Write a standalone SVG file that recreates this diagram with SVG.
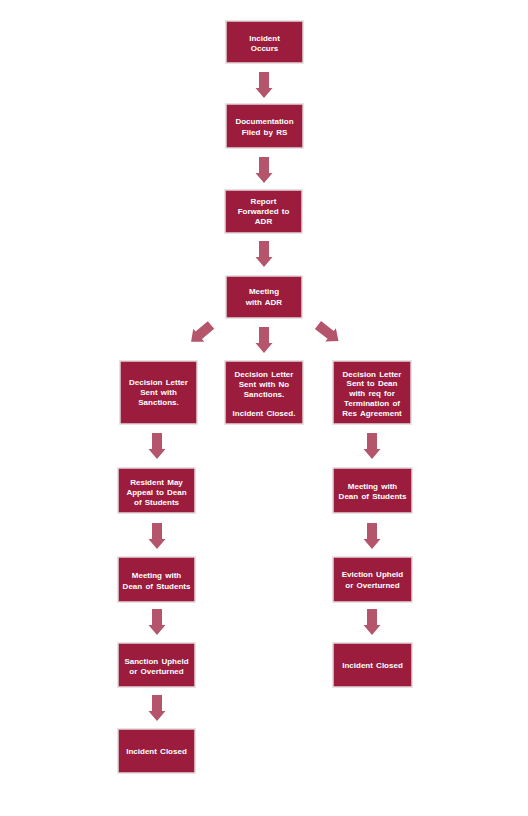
<svg xmlns="http://www.w3.org/2000/svg" width="528" height="816" viewBox="0 0 528 816">
<defs>
<style>
.box{fill:#9b1c3c;stroke:#e2d6d9;stroke-width:1.5}
.t{font-family:"Liberation Sans",Arial,sans-serif;font-size:8px;font-weight:bold;fill:#ffffff;text-anchor:middle;word-spacing:1px}
.arr{fill:#b4556b}
</style>
<path id="a" d="M-5,0 H5 V16 H8.5 L0,26 L-8.5,16 H-5 Z"/>
</defs>
<rect width="528" height="816" fill="#ffffff"/>
<g id="connectors" class="arr">
<use href="#a" x="264" y="72"/>
<use href="#a" x="264" y="157"/>
<use href="#a" x="264" y="241"/>
<use href="#a" x="264" y="327"/>
<use href="#a" transform="translate(211,325) rotate(50)"/>
<use href="#a" transform="translate(318,325) rotate(-52)"/>
<use href="#a" x="157" y="433"/>
<use href="#a" x="157" y="523"/>
<use href="#a" x="157" y="609"/>
<use href="#a" x="157" y="695"/>
<use href="#a" x="372" y="433"/>
<use href="#a" x="372" y="523"/>
<use href="#a" x="372" y="609"/>
</g>
<g id="n1"><rect class="box" x="226" y="21" width="77" height="42"/><text class="t" x="264.5" y="40.5">Incident</text><text class="t" x="264.5" y="51">Occurs</text></g>
<g id="n2"><rect class="box" x="226" y="104" width="77" height="44"/><text class="t" x="264.5" y="124">Documentation</text><text class="t" x="264.5" y="135">Filed by RS</text></g>
<g id="n3"><rect class="box" x="225" y="190" width="77" height="43"/><text class="t" x="263.5" y="203.5">Report</text><text class="t" x="263.5" y="213.5">Forwarded to</text><text class="t" x="263.5" y="223.5">ADR</text></g>
<g id="n4"><rect class="box" x="226" y="276" width="76" height="42"/><text class="t" x="264" y="294">Meeting</text><text class="t" x="264" y="304.5">with ADR</text></g>
<g id="n5"><rect class="box" x="120" y="361" width="77" height="63"/><text class="t" x="158.5" y="385.3">Decision Letter</text><text class="t" x="158.5" y="395.3">Sent with</text><text class="t" x="158.5" y="405.3">Sanctions.</text></g>
<g id="n6"><rect class="box" x="225" y="361" width="78" height="63"/><text class="t" x="264" y="377">Decision Letter</text><text class="t" x="264" y="387">Sent with No</text><text class="t" x="264" y="396.5">Sanctions.</text><text class="t" x="264" y="415.7">Incident Closed.</text></g>
<g id="n7"><rect class="box" x="333" y="361" width="78" height="63"/><text class="t" x="372" y="377">Decision Letter</text><text class="t" x="372" y="386.3">Sent to Dean</text><text class="t" x="372" y="395.7">with req for</text><text class="t" x="372" y="406.3">Termination of</text><text class="t" x="372" y="415.7">Res Agreement</text></g>
<g id="n8"><rect class="box" x="118" y="468" width="77" height="45"/><text class="t" x="156.5" y="484.7">Resident May</text><text class="t" x="156.5" y="494.7">Appeal to Dean</text><text class="t" x="156.5" y="504.7">of Students</text></g>
<g id="n9"><rect class="box" x="118" y="557" width="77" height="45"/><text class="t" x="156.5" y="578">Meeting with</text><text class="t" x="156.5" y="588.7">Dean of Students</text></g>
<g id="n10"><rect class="box" x="118" y="643" width="77" height="44"/><text class="t" x="156.5" y="663.7">Sanction Upheld</text><text class="t" x="156.5" y="674">or Overturned</text></g>
<g id="n11"><rect class="box" x="118" y="729" width="77" height="44"/><text class="t" x="156.5" y="753.7">Incident Closed</text></g>
<g id="n12"><rect class="box" x="333" y="468" width="79" height="45"/><text class="t" x="372.5" y="488.7">Meeting with</text><text class="t" x="372.5" y="498.7">Dean of Students</text></g>
<g id="n13"><rect class="box" x="333" y="557" width="79" height="45"/><text class="t" x="372.5" y="577">Eviction Upheld</text><text class="t" x="372.5" y="588">or Overturned</text></g>
<g id="n14"><rect class="box" x="333" y="643" width="79" height="44"/><text class="t" x="372.5" y="668">Incident Closed</text></g>
</svg>
